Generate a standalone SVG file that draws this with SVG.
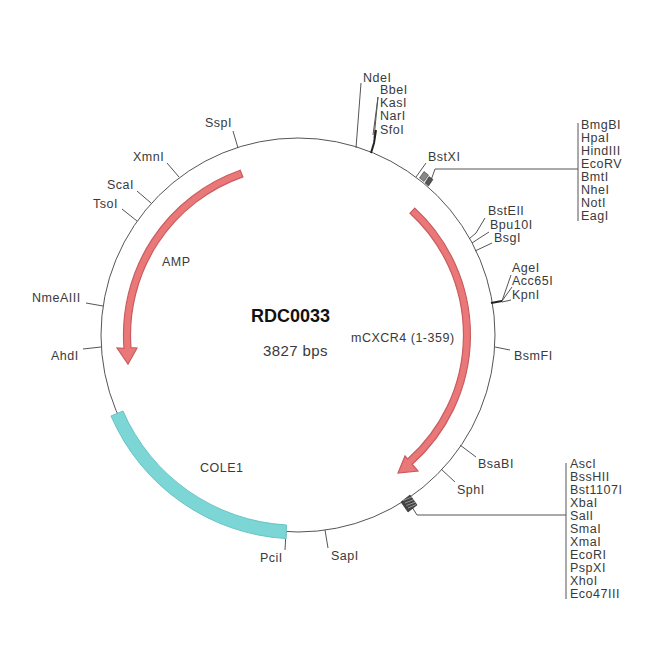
<svg xmlns="http://www.w3.org/2000/svg" width="650" height="650" viewBox="0 0 650 650">
<style>
text{font-family:"Liberation Sans",Arial,sans-serif;font-size:12.5px;letter-spacing:.5px;fill:#3a3a3a}
.c{fill:none;stroke:#555;stroke-width:1}
.t{fill:none;stroke:#222;stroke-width:2}
.h{fill:#555;stroke:#222;stroke-width:.5}
.red{fill:#ea7878;stroke:#c95c60;stroke-width:1.2}
.teal{fill:#7cd6d6;stroke:#68c4c4;stroke-width:1}
</style>
<rect width="650" height="650" fill="#fff"/>
<g id="backbone"><circle class="c" cx="298" cy="335" r="197"/></g>
<g id="connectors">
<path class="c" d="M361 83L356 148"/>
<path class="c" d="M378 97L373 135M378 97L374 138"/>
<path class="t" d="M376 130L374 143L371 153"/>
<path class="c" d="M426 163L416 177"/>
<path class="c" d="M430 183L435 169H578M578 123V221"/>
<path class="c" d="M412 507L417 515H566M566 463V599"/>
<path class="c" d="M485 218L476 233L469 239M489 232L478 239L472 243M492 243L475 251"/>
<path class="c" d="M511 275L502 301M512 287L502 301M511 300L502 302"/>
<path class="t" d="M491 303L502 301"/>
<path class="c" d="M495 347L510 350M460 445L476 457M441 469L455 482M325 530L328 548M286 532L285 550M101 347L83 349M103 306L86 303M137 221L122 209M151 203L137 191M179 177L167 163M238 148L233 131"/>
</g>
<g id="site-cluster-top">
<path class="h" d="M419.500 178L424 171.500L428.500 175L424 181.500Z" fill-opacity=".7"/>
<path class="h" d="M425 183L429 176.500L433 179.500L428.500 186Z"/>
</g>
<g id="site-cluster-bottom">
<path d="M401 502L410 495L417 505L408 512Z" fill="#444" stroke="#222" stroke-width=".6"/>
<path d="M403 500.500L412 497M405 503L414 499.500M406.500 505.500L415.500 502M408 508L416 504.500" stroke="#ccc" stroke-width=".6" fill="none"/>
</g>
<g id="feature-mCXCR4">
<path class="red" d="M414.800 208.100A172.500 172.500 0 0 1 412.200 464.200L418 471L398 473L405 456L407.600 459A165.500 165.500 0 0 0 410 213.200Z"/>
<text x="351" y="342">mCXCR4 (1-359)</text>
</g>
<g id="feature-AMP">
<path class="red" d="M240.200 170.300A174.500 174.500 0 0 0 124 348.300L117 348L128 364L137 348L131 347.700A167.500 167.500 0 0 1 242.900 176.900Z"/>
<text x="162" y="266">AMP</text>
</g>
<g id="feature-COLE1">
<path class="teal" d="M111 416A204 204 0 0 0 286 538.600L286.500 525A190 190 0 0 1 123 411Z"/>
<text x="200" y="472">COLE1</text>
</g>
<g id="title">
<text x="251" y="322" style="font-size:18px;font-weight:bold;letter-spacing:0;fill:#111">RDC0033</text>
<text x="263" y="356" style="font-size:15px;letter-spacing:.4px">3827 bps</text>
</g>
<g id="labels-top">
<text x="363" y="82">NdeI</text><text x="380" y="94">BbeI</text><text x="380" y="107">KasI</text><text x="380" y="120">NarI</text><text x="380" y="134">SfoI</text>
<text x="428" y="161">BstXI</text>
</g>
<g id="labels-list-top">
<text x="581" y="129">BmgBI</text><text x="581" y="142">HpaI</text><text x="581" y="155">HindIII</text><text x="581" y="168">EcoRV</text><text x="581" y="181">BmtI</text><text x="581" y="194">NheI</text><text x="581" y="207">NotI</text><text x="581" y="220">EagI</text>
</g>
<g id="labels-list-bottom">
<text x="570" y="468">AscI</text><text x="570" y="481">BssHII</text><text x="570" y="494">Bst1107I</text><text x="570" y="507">XbaI</text><text x="570" y="520">SalI</text><text x="570" y="533">SmaI</text><text x="570" y="546">XmaI</text><text x="570" y="559">EcoRI</text><text x="570" y="572">PspXI</text><text x="570" y="585">XhoI</text><text x="570" y="598">Eco47III</text>
</g>
<g id="labels-right">
<text x="488" y="215">BstEII</text><text x="490" y="229">Bpu10I</text><text x="494" y="242">BsgI</text>
<text x="512" y="272">AgeI</text><text x="512" y="285">Acc65I</text><text x="512" y="299">KpnI</text>
<text x="514" y="360">BsmFI</text><text x="478" y="468">BsaBI</text><text x="457" y="494">SphI</text>
</g>
<g id="labels-bottom"><text x="331" y="560">SapI</text><text x="260" y="562">PciI</text></g>
<g id="labels-left">
<text x="205" y="127">SspI</text><text x="133" y="161">XmnI</text><text x="107" y="189">ScaI</text><text x="93" y="208">TsoI</text><text x="32" y="302">NmeAIII</text><text x="51" y="360">AhdI</text>
</g>
</svg>
